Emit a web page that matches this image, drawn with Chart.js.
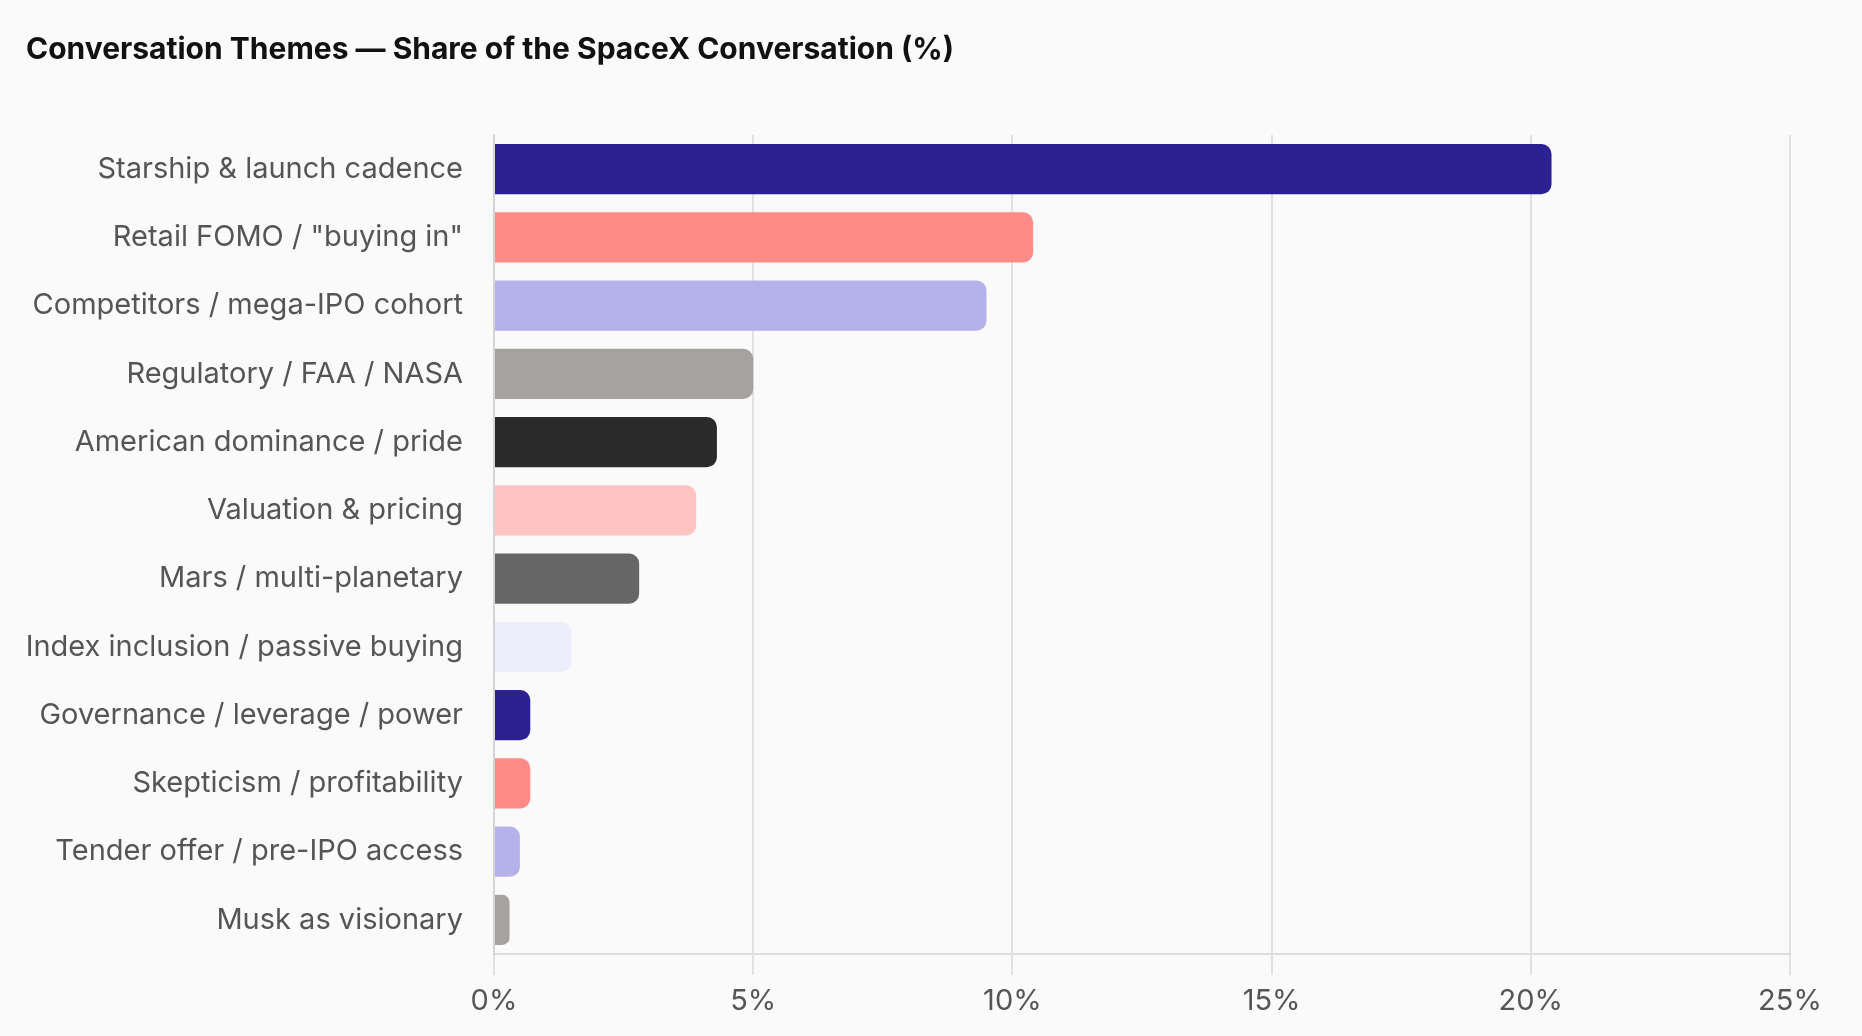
<!DOCTYPE html>
<html>
<head>
<meta charset="utf-8">
<script src="https://cdn.jsdelivr.net/npm/chart.js@4.4.1/dist/chart.umd.min.js"></script>
<style>
  html, body { margin: 0; padding: 0; background: #fafafa; }
  #wrap { width: 1862px; height: 1036px; }
</style>
</head>
<body>
<div id="wrap"><canvas id="themesChart"></canvas></div>
<script>
// ---- data ----
const themes = [
  "Starship & launch cadence",
  "Retail FOMO / \"buying in\"",
  "Competitors / mega-IPO cohort",
  "Regulatory / FAA / NASA",
  "American dominance / pride",
  "Valuation & pricing",
  "Mars / multi-planetary",
  "Index inclusion / passive buying",
  "Governance / leverage / power",
  "Skepticism / profitability",
  "Tender offer / pre-IPO access",
  "Musk as visionary"
];
const sharePct = [20.4, 10.4, 9.5, 5.0, 4.3, 3.9, 2.8, 1.5, 0.7, 0.7, 0.5, 0.3];
const xTicks = [0, 5, 10, 15, 20, 25];
const palette = ["#2b2191", "#ff8b86", "#b5b2eb", "#a5a2a0", "#2a2a2a", "#ffc4c2", "#666666", "#eeedfb"];

const labelColor = "#555555";
const gridColor = "#e1e1e1";

// ---- chart ----
new Chart(document.getElementById("themesChart"), {
  type: "bar",
  data: {
    labels: themes,
    datasets: [{
      data: sharePct,
      backgroundColor: themes.map((_, i) => palette[i % palette.length]),
      borderRadius: 10,
      borderSkipped: "start",
      categoryPercentage: 0.8,
      barPercentage: 0.92
    }]
  },
  options: {
    indexAxis: "y",
    responsive: true,
    maintainAspectRatio: false,
    animation: false,
    layout: { padding: { left: 26, right: 72, top: 0, bottom: 0 } },
    plugins: {
      legend: { display: false },
      tooltip: { enabled: false },
      title: {
        display: true,
        text: "Conversation Themes \u2014 Share of the SpaceX Conversation (%)",
        align: "start",
        color: "#111111",
        font: { family: "Inter", size: 30, weight: "bold" },
        padding: { top: 32, bottom: 67 }
      }
    },
    scales: {
      x: {
        min: 0,
        max: 25,
        afterBuildTicks: (scale) => { scale.ticks = xTicks.map(v => ({ value: v })); },
        afterFit: (scale) => { scale.height = 82; },
        ticks: {
          color: labelColor,
          font: { family: "Inter", size: 29 },
          padding: 9,
          callback: (v) => v + "%"
        },
        grid: { color: gridColor, lineWidth: 2, tickLength: 21 },
        border: { color: "#dddddd", width: 2 }
      },
      y: {
        afterFit: (scale) => { scale.width = 468; },
        ticks: {
          color: labelColor,
          font: { family: "Inter", size: 29 },
          padding: 31
        },
        grid: { display: false, drawTicks: false },
        border: { color: "#d4d4d4", width: 2 }
      }
    }
  }
});
</script>
</body>
</html>
